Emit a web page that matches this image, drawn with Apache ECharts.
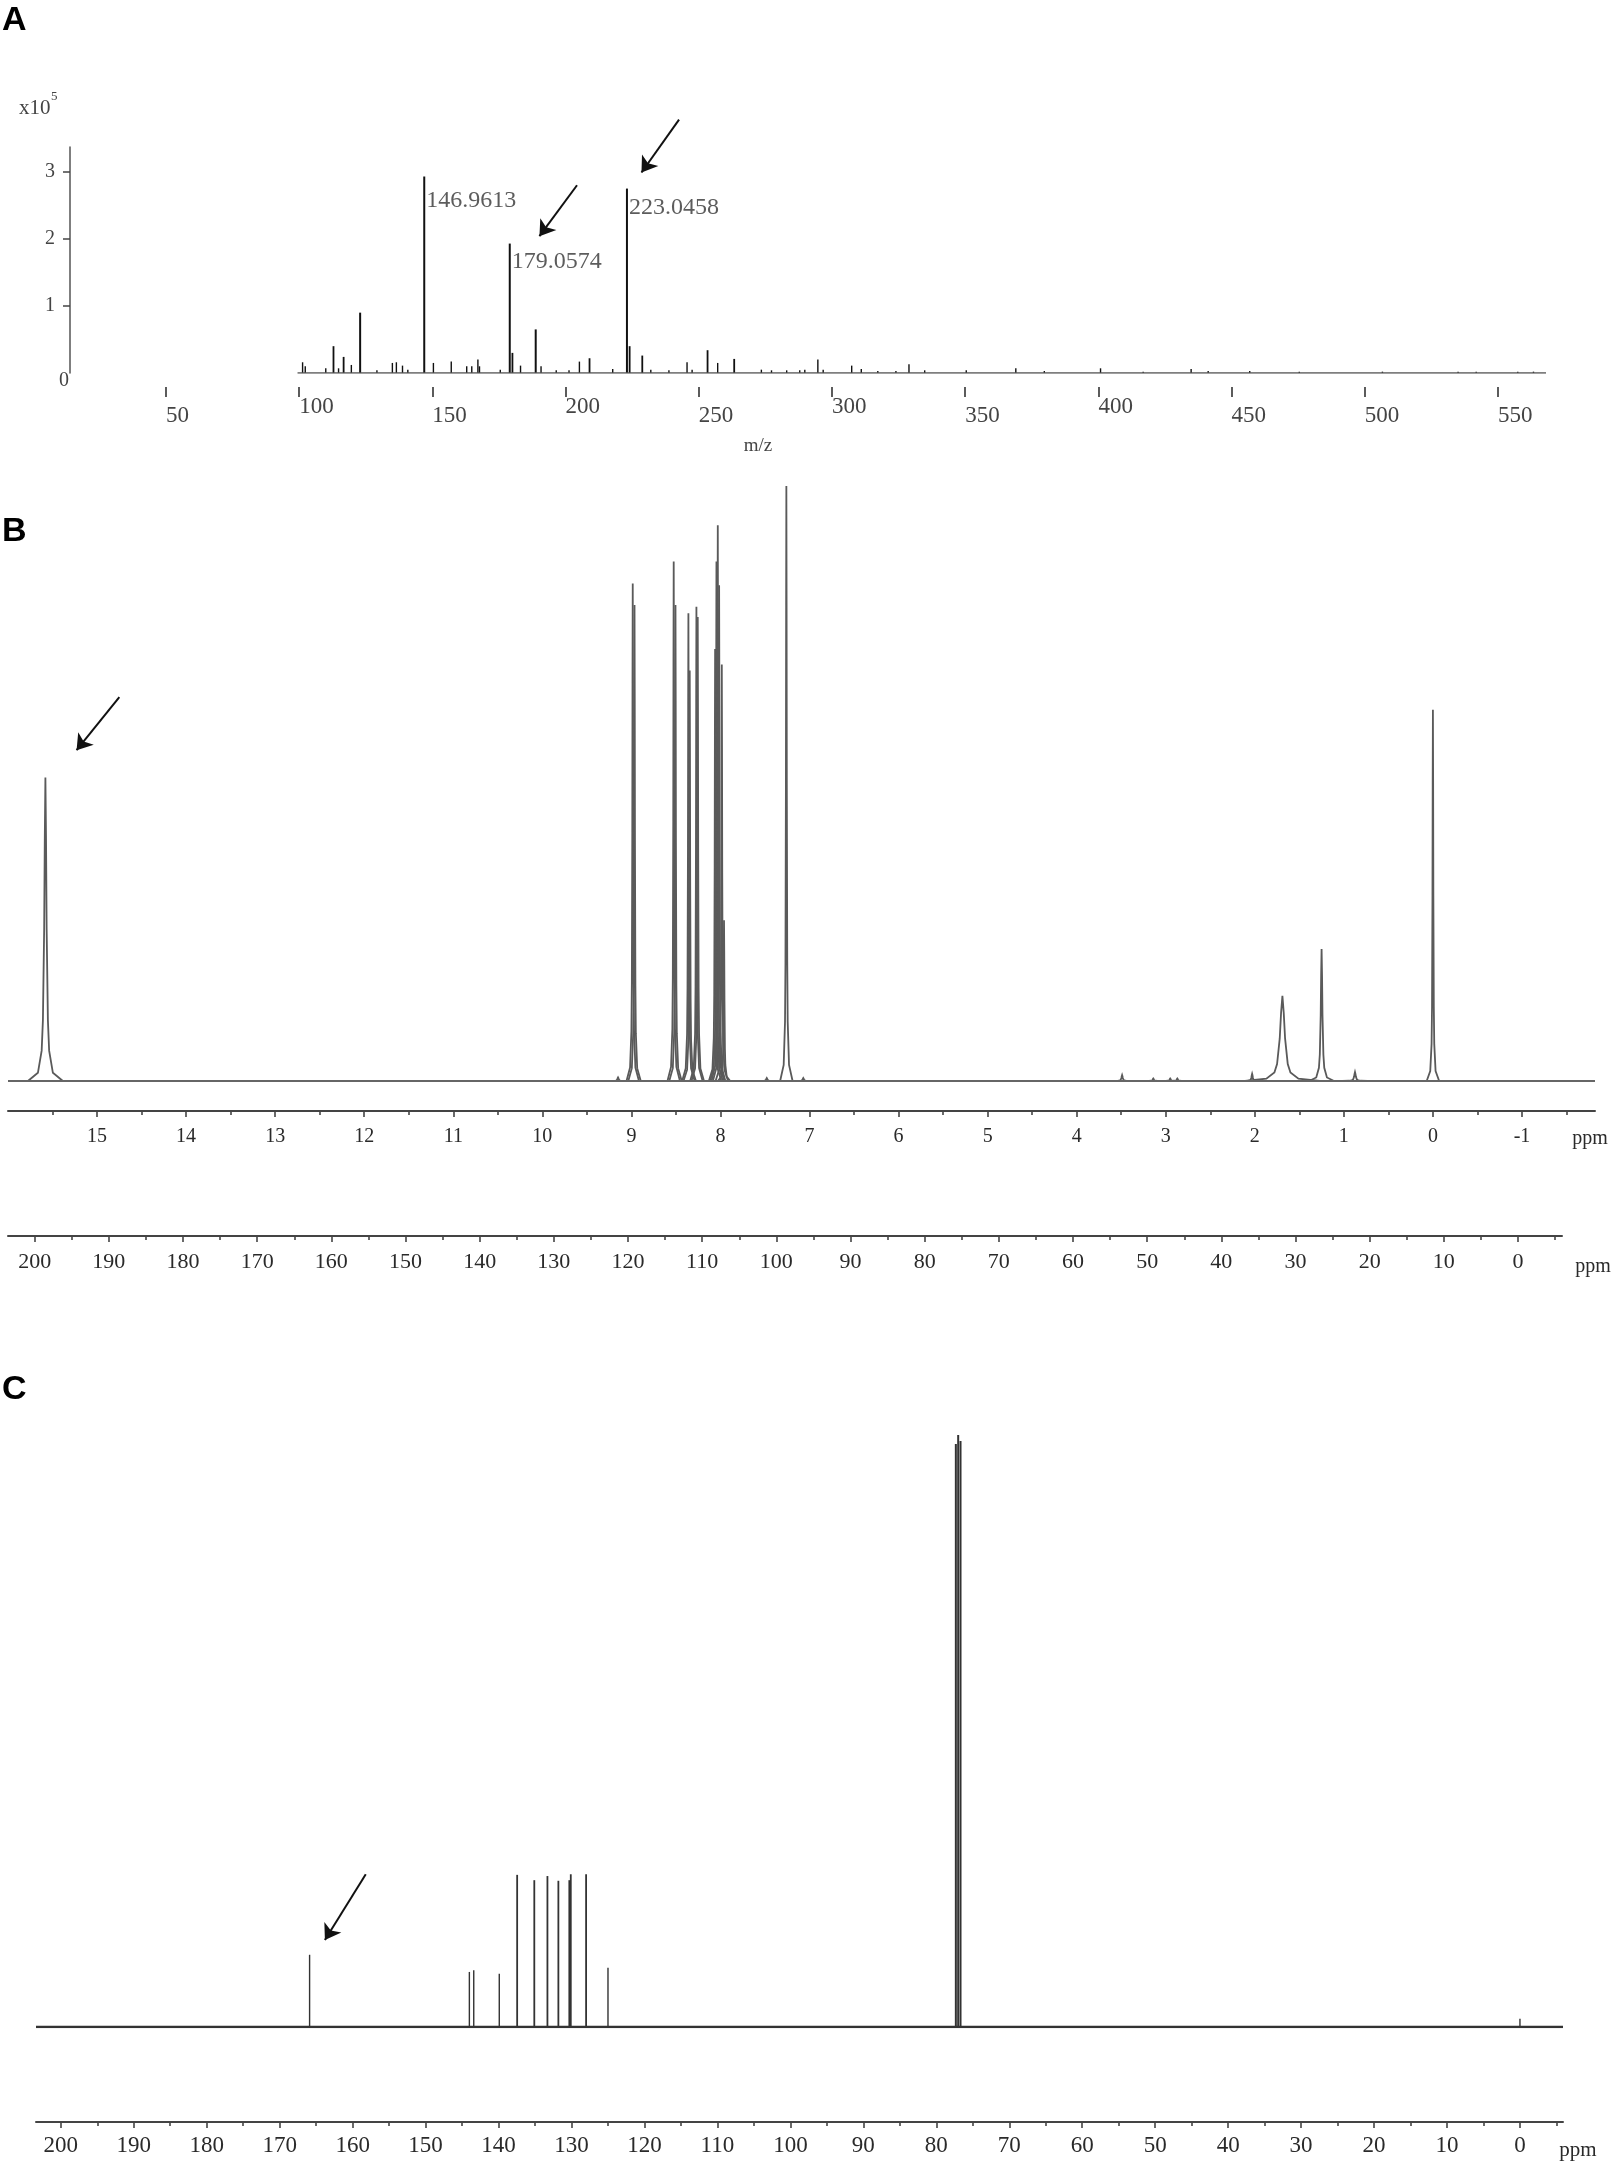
<!DOCTYPE html>
<html><head><meta charset="utf-8">
<script src="https://cdn.jsdelivr.net/npm/echarts@6/dist/echarts.min.js"></script>
<style>html,body{margin:0;padding:0;background:#fff}#c{width:1613px;height:2165px}</style>
</head><body><div id="c"></div>
<script>
// ===== Panel A : MS spectrum (m/z, intensity x10^5) =====
const msMz  = [101.3,102.3,110.0,112.9,114.8,116.7,119.6,122.9,129.2,135.0,136.5,138.8,140.8,146.9613,150.4,157.1,162.9,164.8,167.1,167.7,175.5,179.0574,180.06,183.1,188.8,190.8,196.5,201.3,205.2,209.0,217.7,223.0458,224.05,228.8,232.0,238.8,245.6,247.5,253.3,257.1,263.3,273.5,277.3,283.0,287.9,289.8,294.7,296.7,307.4,311.0,317.2,324.0,328.9,334.8,350.4,369.0,379.7,400.8,416.8,434.8,441.2,456.8,475.4,506.6,535.0,541.8,557.4,563.3];
const msInt = [0.16,0.10,0.07,0.40,0.07,0.24,0.12,0.90,0.04,0.15,0.16,0.11,0.05,2.93,0.15,0.17,0.10,0.10,0.20,0.10,0.05,1.93,0.30,0.11,0.65,0.10,0.04,0.04,0.17,0.22,0.06,2.75,0.40,0.26,0.05,0.04,0.16,0.05,0.34,0.15,0.21,0.05,0.04,0.04,0.04,0.05,0.20,0.05,0.11,0.06,0.03,0.03,0.13,0.04,0.04,0.07,0.03,0.07,0.02,0.06,0.03,0.03,0.02,0.02,0.02,0.02,0.02,0.02];
const msLabeled    = [146.9613,179.0574,223.0458];
const msLabeledInt = [2.93,1.93,2.75];
const msRange      = [99.4,568];
const msXTicks     = [50,100,150,200,250,300,350,400,450,500,550];
const msYTicks     = [1,2,3];
const msArrows     = [[[204.3,2.80],[190.2,2.04]],[[242.6,3.78],[228.5,2.99]]];

// ===== Panel B : 1H NMR (ppm, relative intensity, half width ppm) =====
const hPpm   = [15.58,9.15,8.985,8.965,8.525,8.505,8.36,8.345,8.27,8.255,8.06,8.045,8.03,8.015,7.985,7.96,7.48,7.26,7.07,3.49,3.14,2.95,2.87,2.03,1.69,1.25,0.875,0.0];
const hInt   = [0.51,0.006,0.836,0.80,0.873,0.80,0.786,0.69,0.797,0.78,0.726,0.873,0.934,0.833,0.70,0.27,0.005,1.0,0.005,0.010,0.004,0.004,0.004,0.012,0.143,0.222,0.015,0.624];
const hWidth = [0.014,0.008,0.005,0.005,0.005,0.005,0.005,0.005,0.005,0.005,0.005,0.005,0.005,0.005,0.005,0.005,0.008,0.005,0.008,0.008,0.008,0.008,0.008,0.008,0.03,0.01,0.01,0.005];
const hTicks      = [-1,0,1,2,3,4,5,6,7,8,9,10,11,12,13,14,15];
const hMinorTicks = [-1.5,-0.5,0.5,1.5,2.5,3.5,4.5,5.5,6.5,7.5,8.5,9.5,10.5,11.5,12.5,13.5,14.5,15.5];
const hRange      = [-1.82,16.0];
const hArrow      = [[14.75,0.645],[15.23,0.556]];
const cAxisTicksB = [0,10,20,30,40,50,60,70,80,90,100,110,120,130,140,150,160,170,180,190,200];
const cMinorTicksB= [-5,5,15,25,35,45,55,65,75,85,95,105,115,125,135,145,155,165,175,185,195];
const cRangeB     = [-5.93,203.6];

// ===== Panel C : 13C NMR (ppm, relative intensity) =====
const cPpm = [165.9,144.0,143.4,139.9,137.45,135.1,133.3,131.8,130.3,130.1,128.0,125.0,77.32,77.0,76.68,0.0];
const cInt = [0.122,0.093,0.096,0.090,0.257,0.248,0.255,0.247,0.248,0.258,0.258,0.100,0.985,1.0,0.99,0.014];
const cTicks      = [0,10,20,30,40,50,60,70,80,90,100,110,120,130,140,150,160,170,180,190,200];
const cMinorTicks = [-5,5,15,25,35,45,55,65,75,85,95,105,115,125,135,145,155,165,175,185,195];
const cRange      = [-5.9,203.4];
const cArrow      = [[158.2,0.258],[163.8,0.147]];

// ---------------------------------------------------------------
const serif = "'Liberation Serif','DejaVu Serif',serif";
const chart = echarts.init(document.getElementById('c'), null, {renderer:'canvas', width:1613, height:2165});

function stickRender(color){
  return function(params, api){
    const x = api.value(0), h = api.value(1);
    const p0 = api.coord([x, 0]), p1 = api.coord([x, h]);
    return {type:'line', shape:{x1:p0[0], y1:p0[1], x2:p1[0], y2:p1[1]},
      style:{stroke:color, lineWidth: h > 0.5 ? 2 : (h > 0.2 ? 1.8 : 1.4)}};
  };
}
function peakRender(params, api){
  const x = api.value(0), h = api.value(1), w = api.value(2);
  const us = [-14,-6,-3,-2,-1,-0.5,0,0.5,1,2,3,6,14];
  const pts = us.map(u => api.coord([x + u*w, Math.abs(u) >= 14 ? 0 : h/(1+u*u)]));
  return {type:'polyline', shape:{points:pts}, style:{stroke:'#5a5a5a', lineWidth:1.8, fill:'none'}};
}
function arrowMark(pair){
  return {silent:true, symbol:['none','arrow'], symbolSize:15, animation:false,
    lineStyle:{color:'#111', width:2, type:'solid'}, label:{show:false},
    emphasis:{disabled:true},
    data:[[{coord:pair[0]},{coord:pair[1]}]]};
}
function nmrAxis(grid, range, offset, ticks, fs, margin, show){
  return {gridIndex:grid, type:'value', position:'bottom', min:range[0], max:range[1], inverse:true, offset:offset,
    axisLine:{show:show, onZero:false, lineStyle:{color:'#444', width:2}},
    axisTick:{customValues:ticks, length: show ? 6 : 4, lineStyle:{color:'#444', width:1.6}},
    axisLabel:{show:show, customValues:ticks, fontFamily:serif, fontSize:fs, color:'#2a2a2a', margin:margin},
    splitLine:{show:false}};
}

const highLab = [100,200,300,400];
const labelDy = [24,18,19];

const option = {
  animation:false,
  backgroundColor:'#ffffff',
  grid:[
    {left:70, width:1476, top:147, height:226},
    {left:70, width:1476, top:104.8, height:268.2},
    {left:8, width:1587, top:486, height:595},
    {left:8, width:1554, top:1200, height:36},
    {left:36, width:1527, top:1435, height:592}
  ],
  xAxis:[
    {gridIndex:0, type:'value', position:'bottom', min:14, max:568, offset:14,
      axisLine:{show:false, onZero:false},
      axisTick:{customValues:msXTicks, length:10, lineStyle:{color:'#333', width:1.6}},
      axisLabel:{customValues:msXTicks, align:'left', margin:8, fontFamily:serif, fontSize:23, color:'#444',
        formatter: v => (highLab.indexOf(v) >= 0 ? '{h|' : '{l|') + v + '}',
        rich:{h:{fontFamily:serif, fontSize:23, color:'#444'}, l:{fontFamily:serif, fontSize:23, color:'#444', padding:[9,0,0,0]}}},
      splitLine:{show:false}},
    {gridIndex:1, type:'value', min:14, max:568, show:false},
    nmrAxis(2, hRange, 30, hTicks, 20, 16, true),
    nmrAxis(2, hRange, 30, hMinorTicks, 20, 16, false),
    nmrAxis(3, cRangeB, 0, cAxisTicksB, 22, 15, true),
    nmrAxis(3, cRangeB, 0, cMinorTicksB, 22, 15, false),
    nmrAxis(4, cRange, 95, cTicks, 23, 12, true),
    nmrAxis(4, cRange, 95, cMinorTicks, 23, 12, false)
  ],
  yAxis:[
    {gridIndex:0, type:'value', min:0, max:3.37,
      axisLine:{show:true, onZero:false, lineStyle:{color:'#555', width:1.5}},
      axisTick:{customValues:msYTicks, length:7, lineStyle:{color:'#444', width:1.5}},
      axisLabel:{customValues:msYTicks, margin:15, fontFamily:serif, fontSize:20, color:'#444'},
      splitLine:{show:false}},
    {gridIndex:1, type:'value', min:0, max:4, show:false},
    {gridIndex:2, type:'value', min:0, max:1, show:false},
    {gridIndex:3, type:'value', min:0, max:1, show:false},
    {gridIndex:4, type:'value', min:0, max:1, show:false}
  ],
  series:[
    // Panel A
    {type:'line', xAxisIndex:0, yAxisIndex:0, symbol:'none', silent:true,
      lineStyle:{color:'#555', width:1.5}, data:[[msRange[0],0],[msRange[1],0]]},
    {type:'custom', xAxisIndex:0, yAxisIndex:0, silent:true, renderItem:stickRender('#111'),
      data: msMz.map((m,i) => [m, msInt[i]])},
    {type:'scatter', xAxisIndex:0, yAxisIndex:0, silent:true, symbolSize:0,
      data: msLabeled.map((m,i) => ({value:[m, msLabeledInt[i]], label:{offset:[0, labelDy[i]]}})),
      label:{show:true, position:'right', distance:2, fontFamily:serif, fontSize:24, color:'#333',
        formatter: p => p.value[0].toFixed(4)}},
    {type:'line', xAxisIndex:1, yAxisIndex:1, symbol:'none', silent:true, lineStyle:{opacity:0},
      data:[[14,0]], markLine:{...arrowMark(msArrows[0]), data: msArrows.map(a => [{coord:a[0]},{coord:a[1]}])}},
    // Panel B
    {type:'line', xAxisIndex:2, yAxisIndex:2, symbol:'none', silent:true,
      lineStyle:{color:'#666', width:2}, data:[[hRange[1],0],[hRange[0],0]], markLine:arrowMark(hArrow)},
    {type:'custom', xAxisIndex:2, yAxisIndex:2, silent:true, renderItem:peakRender,
      data: hPpm.map((p,i) => [p, hInt[i], hWidth[i]])},
    {type:'line', xAxisIndex:4, yAxisIndex:3, symbol:'none', silent:true, lineStyle:{opacity:0}, data:[]},
    // Panel C
    {type:'line', xAxisIndex:6, yAxisIndex:4, symbol:'none', silent:true,
      lineStyle:{color:'#333', width:2.5}, data:[[cRange[1],0],[cRange[0],0]], markLine:arrowMark(cArrow)},
    {type:'custom', xAxisIndex:6, yAxisIndex:4, silent:true, renderItem:stickRender('#333'),
      data: cPpm.map((p,i) => [p, cInt[i]])}
  ],
  graphic:[
    {type:'text', x:2, y:21, style:{text:'A', font:'bold 34px "Liberation Sans", Arial, sans-serif', fill:'#000', textVerticalAlign:'middle'}},
    {type:'text', x:2, y:532, style:{text:'B', font:'bold 34px "Liberation Sans", Arial, sans-serif', fill:'#000', textVerticalAlign:'middle'}},
    {type:'text', x:2, y:1390, style:{text:'C', font:'bold 34px "Liberation Sans", Arial, sans-serif', fill:'#000', textVerticalAlign:'middle'}},
    {type:'text', x:19, y:108, style:{text:'x10', font:'21px ' + serif, fill:'#444', textVerticalAlign:'middle'}},
    {type:'text', x:51, y:97, style:{text:'5', font:'13px ' + serif, fill:'#444', textVerticalAlign:'middle'}},
    {type:'text', x:64, y:381, style:{text:'0', font:'20px ' + serif, fill:'#444', textAlign:'center', textVerticalAlign:'middle'}},
    {type:'text', x:758, y:446, style:{text:'m/z', font:'19px ' + serif, fill:'#444', textAlign:'center', textVerticalAlign:'middle'}},
    {type:'text', x:1590, y:1139, style:{text:'ppm', font:'20px ' + serif, fill:'#2a2a2a', textAlign:'center', textVerticalAlign:'middle'}},
    {type:'text', x:1593, y:1267, style:{text:'ppm', font:'20px ' + serif, fill:'#2a2a2a', textAlign:'center', textVerticalAlign:'middle'}},
    {type:'text', x:1578, y:2150, style:{text:'ppm', font:'21px ' + serif, fill:'#2a2a2a', textAlign:'center', textVerticalAlign:'middle'}}
  ]
};
chart.setOption(option);
</script>
</body></html>
